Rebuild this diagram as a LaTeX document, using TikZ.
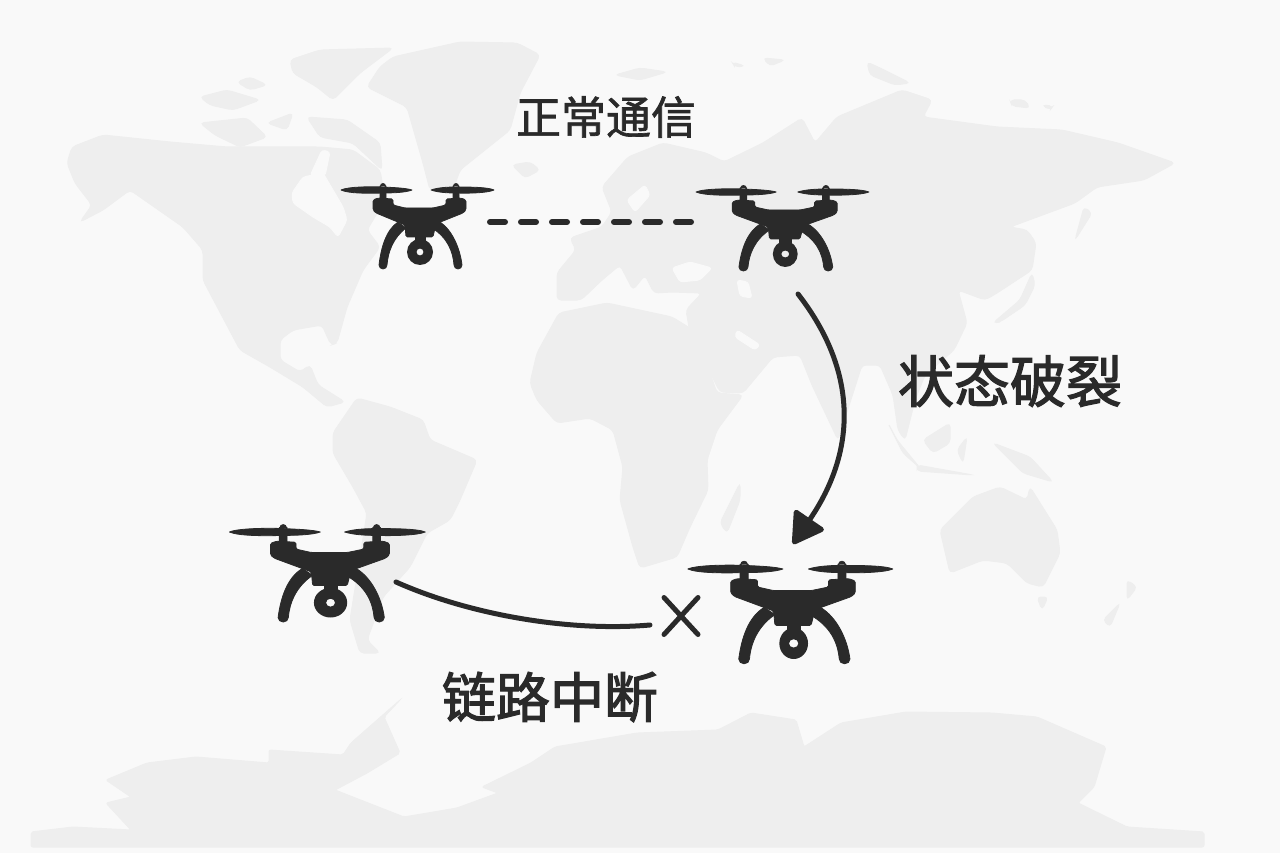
\documentclass[tikz,border=0pt]{standalone}
\usepackage{fontspec}
\usepackage{xcolor}
\usepackage{tikz}
\usetikzlibrary{arrows.meta,shapes.misc}
\newfontfamily\cjk[FakeBold=1.5]{Noto Sans CJK SC}
\newfontfamily\cjkheavy[FakeBold=2.2]{Noto Sans CJK SC}
\definecolor{seagray}{HTML}{F9F9F9}
\definecolor{landgray}{HTML}{EEEEEE}
\definecolor{inkgray}{HTML}{2A2A2A}
\tikzset{
  land/.style={fill=landgray,draw=landgray,line width=1pt,rounded corners=4pt},
  sea/.style={fill=seagray,draw=seagray,line width=1pt,rounded corners=3pt},
  linkline/.style={draw=inkgray,line cap=round},
  caption/.style={text=inkgray,inner sep=0pt},
  dronepart/.style={fill=inkgray,draw=inkgray,line width=.8pt,line join=round},
  pics/dronepic/.style={code={
    % rotors
    \path[dronepart] (-77,0) .. controls (-70,-3.5) and (-45,-3.5) .. (-35,-3) .. controls (-25,-2.5) and (-12,-2) .. (-6,0)
      .. controls (-12,2.5) and (-25,3) .. (-35,3) .. controls (-50,3.5) and (-70,3.5) .. cycle;
    \path[dronepart] (13,0) .. controls (20,-2.5) and (30,-3) .. (38,-3) .. controls (50,-3) and (70,-3) .. (76,0)
      .. controls (70,3) and (50,3.5) .. (38,3) .. controls (30,3) and (20,2.5) .. cycle;
    \path[dronepart] (-38,-4) rectangle (-32,10) (-35,-4) circle[radius=2.5];
    \path[dronepart] (35,-4) rectangle (41,10) (38,-4) circle[radius=2.5];
    % body
    \path[dronepart,rounded corners=1.5pt] (-45,10) -- (-40,8) -- (-25,9) -- (-25,15) -- (-13,18) -- (15,18) -- (28,15) -- (28,9)
      -- (43,8) -- (48,10) -- (48,20) -- (45,23) -- (20,33) -- (17,38) -- (15,47) -- (-12,47) -- (-13,35) -- (-42,23) -- (-45,20) -- cycle;
    % legs
    \path[dronepart] (-20,32) .. controls (-32,40) and (-37,58) .. (-39,75) arc[start angle=180,end angle=0,radius=4]
      .. controls (-30,62) and (-25,48) .. (-12,38) -- cycle;
    \path[dronepart] (22,32) .. controls (34,40) and (42,58) .. (44,75) arc[start angle=0,end angle=180,radius=4]
      .. controls (35,62) and (30,48) .. (14,38) -- cycle;
    % camera
    \path[dronepart] (-3,46) rectangle (7,52);
    \fill[inkgray,even odd rule] (2,62) circle[x radius=#1,y radius=13] (2,62) circle[x radius=3.5,y radius=3.5];
  }}
}
\begin{document}
\begin{tikzpicture}[x=1pt,y=-1pt]
% background map
\fill[seagray] (0,0) rectangle (1280,853);
\useasboundingbox (0,0) rectangle (1280,853);
% north america
\path[land] (72,147) -- (103,135) -- (170,142) -- (227,147) -- (273,147) -- (320,147) -- (353,150) -- (380,170) -- (385,200) -- (367,230) -- (380,247) -- (363,270) -- (347,307) -- (337,343)
  -- (331,345) -- (322,325) -- (293,330) -- (280,340) -- (280,360) -- (300,372) -- (310,365) -- (318,385) -- (345,402) -- (327,407)
  -- (303,387) -- (270,367) -- (240,350) -- (203,280) -- (203,250) -- (183,227) -- (130,190) -- (103,210) -- (80,222) -- (92,205) -- (75,183) -- (67,163) -- cycle;
\path[sea] (292,193) -- (303,177) -- (323,173) -- (343,207) -- (347,220) -- (338,237) -- (330,227) -- (313,217) -- (293,203) -- cycle;
\path[sea] (310,176) -- (322,150) -- (330,152) -- (325,176) -- cycle;
% arctic islands
\path[land] (307,117) -- (347,120) -- (380,143) -- (382,170) -- (353,143) -- (320,137) -- cycle;
\path[land] (200,123) -- (247,118) -- (267,137) -- (240,147) -- (215,135) -- cycle;
\path[land] (200,97) -- (227,90) -- (260,100) -- (233,110) -- (210,105) -- cycle;
\path[land] (267,123) -- (293,113) -- (287,130) -- cycle;
\path[land] (237,82) -- (250,77) -- (267,85) -- (250,90) -- cycle;
\path[land] (290,60) -- (320,50) -- (393,48) -- (360,73) -- (333,100) -- (317,87) -- (293,73) -- cycle;
% greenland and iceland
\path[land] (393,57) -- (460,42) -- (517,43) -- (540,55) -- (520,93) -- (510,130) -- (460,170) -- (453,190) -- (430,190) -- (423,163) -- (407,107) -- (367,87) -- (380,67) -- cycle;
\path[land] (512,165) -- (530,162) -- (540,170) -- (525,178) -- cycle;
\path[land] (615,75) -- (640,68) -- (667,72) -- (640,80) -- cycle;
\path[land] (732,62) -- (745,66) -- (735,67) -- cycle;
\path[land] (763,58) -- (785,60) -- (770,66) -- cycle;
\path[land] (867,62) -- (880,68) -- (910,83) -- (895,85) -- (870,75) -- cycle;
\path[land] (1010,100) -- (1025,100) -- (1030,108) -- (1012,106) -- cycle;
\path[land] (1042,105) -- (1053,106) -- (1050,110) -- cycle;
% eurasia
\path[land] (557,273) -- (566,262) -- (576,250) -- (570,238) -- (602,227) -- (612,212) -- (602,187) -- (628,157) -- (663,143) -- (706,153) -- (724,162)
  -- (763,143) -- (802,118) -- (815,143) -- (837,117) -- (902,90) -- (932,100) -- (923,117) -- (997,127) -- (1062,130) -- (1118,143) -- (1175,163)
  -- (1144,180) -- (1097,187) -- (1075,203) -- (1010,227) -- (1027,230) -- (1036,243) -- (1032,270) -- (997,293) -- (985,300) -- (958,290) -- (967,323)
  -- (954,350) -- (925,375) -- (915,400) -- (905,440) -- (898,430) -- (893,395) -- (880,365) -- (862,365) -- (838,440) -- (812,385) -- (800,355)
  -- (773,357) -- (743,393) -- (720,392) -- (700,353) -- (690,333) -- (686,310) -- (702,293) -- (672,292) -- (654,293) -- (645,275) -- (633,290)
  -- (620,265) -- (602,280) -- (581,300) -- (557,300) -- cycle;
% inner seas
\path[sea] (672,268) -- (690,262) -- (712,268) -- (700,280) -- (680,282) -- cycle;
\path[sea] (737,280) -- (748,282) -- (752,298) -- (740,296) -- cycle;
\path[sea] (627,200) -- (645,185) -- (650,195) -- (635,212) -- cycle;
\path[sea] (737,330) -- (760,345) -- (755,350) -- (735,337) -- cycle;
% japan and sakhalin
\path[land] (1084,207) -- (1092,213) -- (1075,240) -- cycle;
\path[land] (993,323) -- (1020,300) -- (1032,273) -- (1035,285) -- (1025,305) -- (1000,322) -- cycle;
% africa
\path[land] (530,383) -- (537,353) -- (559,313) -- (607,303) -- (672,317) -- (693,330) -- (697,337) -- (717,393) -- (743,395) -- (717,430) -- (707,460)
  -- (708,490) -- (690,527) -- (677,557) -- (640,568) -- (633,547) -- (620,500) -- (623,467) -- (613,430) -- (590,418) -- (557,423) -- (537,400) -- cycle;
\path[land] (740,483) -- (720,523) -- (727,533) -- (740,500) -- cycle;
% south america
\path[land] (357,398) -- (390,407) -- (423,420) -- (430,440) -- (477,460) -- (460,500) -- (450,520) -- (427,533) -- (410,567) -- (383,597) -- (367,640)
  -- (380,653) -- (360,653) -- (350,620) -- (367,513) -- (353,487) -- (333,453) -- (333,433) -- cycle;
% asia islands and australia
\path[land] (888,423) -- (903,453) -- (920,468) -- (897,440) -- cycle;
\path[land] (917,465) -- (973,475) -- (917,471) -- cycle;
\path[land] (923,440) -- (950,423) -- (950,443) -- (933,453) -- cycle;
\path[land] (957,450) -- (967,437) -- (963,463) -- cycle;
\path[land] (993,443) -- (1030,457) -- (1053,482) -- (1023,473) -- (1007,457) -- cycle;
\path[land] (940,530) -- (973,497) -- (1000,487) -- (1027,500) -- (1030,487) -- (1057,530) -- (1060,553) -- (1043,587) -- (1027,583) -- (1007,563) -- (983,560) -- (950,573) -- cycle;
\path[land] (1037,597) -- (1048,597) -- (1042,610) -- cycle;
\path[land] (1127,580) -- (1137,587) -- (1127,600) -- cycle;
\path[land] (1103,620) -- (1120,603) -- (1110,627) -- cycle;
% antarctica
\path[land,rounded corners=2pt] (31,832) -- (31,847) -- (1204,847) -- (1204,832) -- (1127,827) -- (1078,803) -- (1094,787) -- (1106,747) -- (1037,717) -- (992,713) -- (906,712) -- (841,723)
  -- (804,747) -- (796,720) -- (751,713) -- (718,730) -- (637,733) -- (555,747) -- (531,763) -- (482,787) -- (498,793) -- (457,808) -- (404,817) -- (335,790)
  -- (367,773) -- (400,753) -- (384,717) -- (400,700) -- (351,743) -- (343,755) -- (269,750) -- (269,763) -- (196,757) -- (147,763) -- (106,780) -- (131,797)
  -- (106,803) -- (131,830) -- (73,827) -- cycle;
% drones
\coordinate (droneA) at (418,190);
\coordinate (droneB) at (783,192);
\coordinate (droneC) at (328,532);
\coordinate (droneD) at (791,569);
\pic at (droneA) {dronepic=13};
\pic[xscale=1.13] at (droneB) {dronepic=11};
\pic[xscale=1.28,yscale=1.14] at (droneC) {dronepic=13};
\pic[xscale=1.34,yscale=1.2] at (droneD) {dronepic=10.7};
% connectors
\coordinate (dashStart) at (490,222);
\coordinate (dashEnd) at (692,222);
\coordinate (arrowStart) at (798,294);
\coordinate (arrowEnd) at (793,544);
\coordinate (linkStart) at (396,582);
\coordinate (linkEnd) at (650,625);
\node[draw=inkgray,cross out,line width=5pt,line cap=round,minimum width=29pt,minimum height=32pt,inner sep=0pt] (breakMark) at (681,616) {};
\draw[linkline,line width=6pt,dash pattern=on 15pt off 16pt] (dashStart) -- (dashEnd);
\draw[linkline,line width=5pt,-{Triangle[length=33pt,width=38pt,round]}] (arrowStart) .. controls (857,370) and (858,449) .. (arrowEnd);
\draw[linkline,line width=5pt] (linkStart) .. controls (470,615) and (570,632) .. (linkEnd);
% labels
\node[caption,font=\cjk\fontsize{45}{50}\selectfont] (labelNormal) at (606,117) {正常通信};
\node[caption,font=\cjkheavy\fontsize{56}{60}\selectfont] (labelBreak) at (1010,381) {状态破裂};
\node[caption,font=\cjkheavy\fontsize{54}{60}\selectfont] (labelLost) at (550,697) {链路中断};
\end{tikzpicture}
\end{document}
